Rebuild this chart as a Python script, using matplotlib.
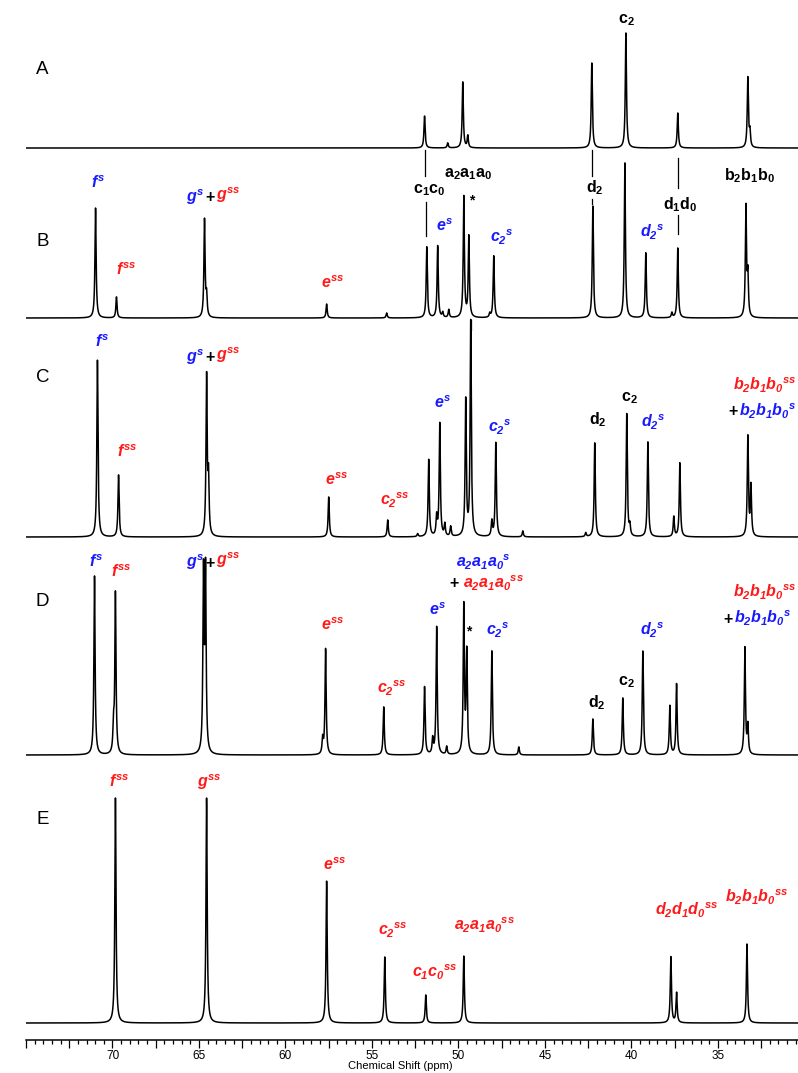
import numpy as np
import matplotlib

matplotlib.use("Agg")
import matplotlib.pyplot as plt
from matplotlib.ticker import MultipleLocator, FuncFormatter

FIG_W, FIG_H = 798, 1073
AXIS_Y = 1040  # pixel row of the ppm axis line
XLIM = (75.0, 30.37)

BLUE = "#1a1aff"
RED = "#ff1a1a"

# peak positions (ppm) and heights (arbitrary units) for each trace
A_PPM = [51.96, 50.62, 49.75, 49.46, 42.29, 40.32, 37.32, 33.27, 33.15]
A_HGT = [32, 5, 66, 12, 85, 115, 35, 70, 15]

B_PPM = [70.98, 69.77, 64.68, 64.56, 57.62, 54.15, 51.83, 51.20, 50.91, 50.56,
         49.69, 49.40, 48.19, 47.96, 42.23, 40.38, 39.17, 37.66, 37.32, 33.38, 33.27]
B_HGT = [110, 21, 98, 20, 14, 5, 71, 72, 5, 8,
         121, 81, 4, 62, 112, 155, 65, 5, 70, 110, 40]

C_PPM = [70.87, 69.65, 64.56, 64.45, 57.50, 54.09, 52.36, 51.72, 51.26, 51.08,
         50.79, 50.45, 49.58, 49.29, 48.07, 47.84, 46.28, 42.64, 42.12, 40.27,
         40.09, 39.05, 37.55, 37.20, 33.27, 33.09]
C_HGT = [177, 62, 159, 55, 40, 17, 3, 77, 19, 113,
         12, 10, 136, 215, 15, 94, 6, 4, 94, 123,
         10, 95, 20, 74, 100, 50]

D_PPM = [71.04, 69.94, 69.83, 64.74, 64.62, 57.85, 57.68, 54.32, 51.96, 51.49,
         51.26, 50.68, 49.69, 49.52, 48.07, 46.51, 42.23, 40.50, 39.34, 37.78,
         37.39, 33.44, 33.27]
D_HGT = [179, 25, 161, 178, 180, 15, 106, 48, 68, 15,
         128, 8, 148, 101, 104, 8, 36, 57, 104, 49,
         71, 107, 28]

E_PPM = [69.83, 64.56, 57.62, 54.26, 51.89, 49.69, 37.72, 37.39, 33.32]
E_HGT = [225, 225, 142, 66, 28, 67, 66, 30, 79]

TRACES = [("A", A_PPM, A_HGT, 148, 70),
          ("B", B_PPM, B_HGT, 318, 242),
          ("C", C_PPM, C_HGT, 537, 378),
          ("D", D_PPM, D_HGT, 755, 602),
          ("E", E_PPM, E_HGT, 1023, 820)]

HWHM = 0.04

# labels: (x px, y px, text, colour, ha)
LABELS = [
    # A
    (627, 20, r"$\mathbf{c_2}$", "black", "center"),
    # B
    (99, 183, r"$f^{s}$", BLUE, "center"),
    (127, 270, r"$f^{ss}$", RED, "center"),
    (205, 197, r"$g^{s}$", BLUE, "right"),
    (210.5, 197, r"$\mathbf{+}$", "black", "center"),
    (216, 195, r"$g^{ss}$", RED, "left"),
    (333, 283, r"$e^{ss}$", RED, "center"),
    (430, 190, r"$\mathbf{c_1c_0}$", "black", "center"),
    (445, 226, r"$e^{s}$", BLUE, "center"),
    (468, 174, r"$\mathbf{a_2a_1a_0}$", "black", "center"),
    (502, 237, r"$c_2{}^{s}$", BLUE, "center"),
    (595, 188, r"$\mathbf{d_2}$", "black", "center"),
    (652, 232, r"$d_2{}^{s}$", BLUE, "center"),
    (680, 205, r"$\mathbf{d_1d_0}$", "black", "center"),
    (750, 176, r"$\mathbf{b_2b_1b_0}$", "black", "center"),
    # C
    (103, 342, r"$f^{s}$", BLUE, "center"),
    (128, 452, r"$f^{ss}$", RED, "center"),
    (205, 357, r"$g^{s}$", BLUE, "right"),
    (210.5, 357, r"$\mathbf{+}$", "black", "center"),
    (216, 355, r"$g^{ss}$", RED, "left"),
    (337, 480, r"$e^{ss}$", RED, "center"),
    (395, 500, r"$c_2{}^{ss}$", RED, "center"),
    (443, 403, r"$e^{s}$", BLUE, "center"),
    (500, 427, r"$c_2{}^{s}$", BLUE, "center"),
    (598, 420, r"$\mathbf{d_2}$", "black", "center"),
    (630, 398, r"$\mathbf{c_2}$", "black", "center"),
    (653, 422, r"$d_2{}^{s}$", BLUE, "center"),
    (797, 385, r"$b_2b_1b_0{}^{ss}$", RED, "right"),
    (733, 411, r"$\mathbf{+}$", "black", "center"),
    (796, 411, r"$b_2b_1b_0{}^{s}$", BLUE, "right"),
    # D
    (97, 562, r"$f^{s}$", BLUE, "center"),
    (122, 572, r"$f^{ss}$", RED, "center"),
    (205, 562, r"$g^{s}$", BLUE, "right"),
    (210.5, 562, r"$\mathbf{+}$", "black", "center"),
    (216, 560, r"$g^{ss}$", RED, "left"),
    (333, 625, r"$e^{ss}$", RED, "center"),
    (392, 688, r"$c_2{}^{ss}$", RED, "center"),
    (438, 610, r"$e^{s}$", BLUE, "center"),
    (484, 562, r"$a_2a_1a_0{}^{s}$", BLUE, "center"),
    (455, 583, r"$\mathbf{+}$", "black", "center"),
    (494, 583, r"$a_2a_1a_0{}^{ss}$", RED, "center"),
    (498, 630, r"$c_2{}^{s}$", BLUE, "center"),
    (597, 703, r"$\mathbf{d_2}$", "black", "center"),
    (627, 682, r"$\mathbf{c_2}$", "black", "center"),
    (652, 630, r"$d_2{}^{s}$", BLUE, "center"),
    (765, 592, r"$b_2b_1b_0{}^{ss}$", RED, "center"),
    (728, 618, r"$\mathbf{+}$", "black", "center"),
    (763, 618, r"$b_2b_1b_0{}^{s}$", BLUE, "center"),
    # E
    (120, 782, r"$f^{ss}$", RED, "center"),
    (210, 782, r"$g^{ss}$", RED, "center"),
    (335, 865, r"$e^{ss}$", RED, "center"),
    (393, 930, r"$c_2{}^{ss}$", RED, "center"),
    (435, 972, r"$c_1c_0{}^{ss}$", RED, "center"),
    (485, 925, r"$a_2a_1a_0{}^{ss}$", RED, "center"),
    (687, 910, r"$d_2d_1d_0{}^{ss}$", RED, "center"),
    (757, 897, r"$b_2b_1b_0{}^{ss}$", RED, "center"),
]

STARS = [(472, 200), (469, 631)]

# guide lines from trace A down to trace B: (x px, y0 px, y1 px)
GUIDES = [(425, 150, 176), (426, 202, 236),
          (592, 150, 176), (592, 199, 204),
          (678, 158, 188), (678, 215, 234),
          (471, 320, 330)]


def px_to_ppm(px):
    return 70 + (113 - px) / 17.286


def px_to_y(py):
    return AXIS_Y - py


def spectrum(grid, ppm, hgt):
    y = np.zeros_like(grid)
    for p, h in zip(ppm, hgt):
        y += h / (1 + ((grid - p) / HWHM) ** 2)
    return y


def setup_fonts():
    plt.rcParams["font.family"] = ["Liberation Sans", "DejaVu Sans"]
    plt.rcParams["mathtext.fontset"] = "custom"
    plt.rcParams["mathtext.rm"] = "Liberation Sans:bold:italic"
    plt.rcParams["mathtext.it"] = "Liberation Sans:bold:italic"
    plt.rcParams["mathtext.bf"] = "Liberation Sans:bold"


def main() -> None:
    setup_fonts()
    fig = plt.figure(figsize=(FIG_W / 100, FIG_H / 100), dpi=100)
    ax = fig.add_axes([26 / FIG_W, (FIG_H - AXIS_Y) / FIG_H, 1 - 26 / FIG_W, AXIS_Y / FIG_H])
    ax.set_xlim(*XLIM)
    ax.set_ylim(0, AXIS_Y)

    grid = np.linspace(XLIM[0], XLIM[1], 12000)
    for name, ppm, hgt, base_px, label_py in TRACES:
        y = spectrum(grid, ppm, hgt) + px_to_y(base_px)
        ax.plot(grid, y, color="black", lw=1.1)
        ax.text(px_to_ppm(43), px_to_y(label_py), name, fontsize=13.5,
                ha="center", va="center")

    for px, y0, y1 in GUIDES:
        ax.plot([px_to_ppm(px)] * 2, [px_to_y(y0), px_to_y(y1)], color="black", lw=0.9)

    for px, py, s, color, ha in LABELS:
        ax.text(px_to_ppm(px), px_to_y(py), s, color=color, fontsize=11.5,
                ha=ha, va="center", clip_on=False)

    for px, py in STARS:
        ax.text(px_to_ppm(px), px_to_y(py), "*", fontsize=10, fontweight="bold",
                ha="center", va="center")

    for side in ("top", "left", "right"):
        ax.spines[side].set_visible(False)
    ax.spines["bottom"].set_linewidth(1.1)
    ax.set_yticks([])

    ax.xaxis.set_major_locator(MultipleLocator(2.5))
    ax.xaxis.set_minor_locator(MultipleLocator(0.5))
    ax.xaxis.set_major_formatter(FuncFormatter(
        lambda v, _: f"{v:.0f}" if abs(v % 5) < 1e-6 and 30 < v < 75 else ""))
    ax.tick_params(axis="x", which="major", direction="out", length=5.5, width=0.9,
                   labelsize=8.5, pad=2)
    ax.tick_params(axis="x", which="minor", direction="out", length=3, width=0.9)

    fig.text(400 / FIG_W, 1 - 1066 / FIG_H, "Chemical Shift (ppm)", fontsize=8,
             ha="center", va="center")

    fig.savefig("out.png", dpi=100)
    plt.close(fig)


if __name__ == "__main__":
    main()
